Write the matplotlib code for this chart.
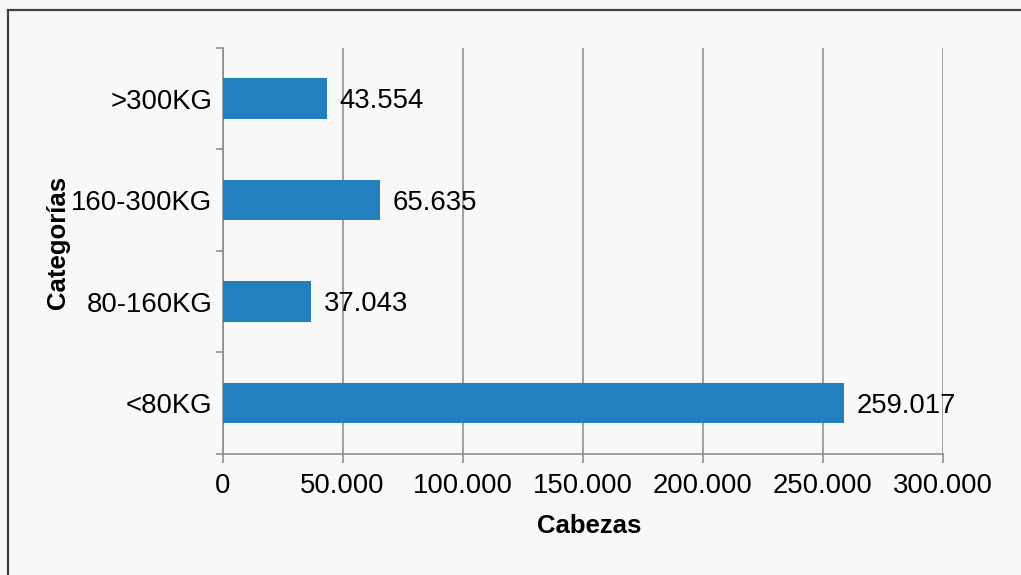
import numpy as np
import matplotlib.pyplot as plt
from matplotlib.patches import Rectangle
from matplotlib.ticker import FuncFormatter

categories = ["<80KG", "80-160KG", "160-300KG", ">300KG"]
cabezas = [259017, 37043, 65635, 43554]
xticks = [0, 50000, 100000, 150000, 200000, 250000, 300000]

plt.rcParams['font.family'] = ['Liberation Sans', 'DejaVu Sans']

W, H = 1021, 575
fig = plt.figure(figsize=(W / 100, H / 100), dpi=100, facecolor='#f8f8f8')

# chart frame (only top/left visible in reference)
fig.patches.append(Rectangle((7.5 / W, -0.1), 1.2, (H - 9.5) / H + 0.1,
                             transform=fig.transFigure, fill=False,
                             edgecolor='#404040', linewidth=1.6))

x0, x1, ytop, ybot = 222.5, 942.7, 48, 453.7
ax = fig.add_axes([x0 / W, (H - ybot) / H, (x1 - x0) / W, (ybot - ytop) / H])
ax.set_facecolor('none')

grid_c = '#888888'
fs = 19.8
ypos = np.arange(len(categories))
ax.barh(ypos, cabezas, height=0.4, color='#2280bf', zorder=3)

for y, v in zip(ypos, cabezas):
    ax.annotate(f"{v:,}".replace(",", "."), (v, y), xytext=(9, -2),
                textcoords='offset points', va='center', ha='left',
                fontsize=fs, color='black', zorder=4)

ax.set_xlim(0, 300000)
ax.set_ylim(-0.5, len(categories) - 0.5)
ax.set_xticks(xticks)
ax.xaxis.set_major_formatter(FuncFormatter(lambda v, p: f"{int(v):,}".replace(",", ".")))
ax.set_yticks(ypos)
ax.set_yticklabels(categories)
ax.set_yticks(np.arange(-0.5, len(categories), 1.0), minor=True)

ax.tick_params(axis='x', length=6.3, width=1.1, color=grid_c, pad=7.5,
               labelsize=fs, direction='out')
ax.tick_params(axis='y', which='major', length=0, pad=7.5, labelsize=fs)
ax.tick_params(axis='y', which='minor', length=5, width=1.1, color=grid_c,
               direction='out')

ax.grid(axis='x', color=grid_c, linewidth=1.1, zorder=0)
for s in ['top', 'right']:
    ax.spines[s].set_visible(False)
for s in ['left', 'bottom']:
    ax.spines[s].set_color(grid_c)
    ax.spines[s].set_linewidth(1.1)

fig.text(589.5 / W, 1 - 526 / H, "Cabezas", ha='center', va='center',
         fontsize=18.5, fontweight='bold')
fig.text(58 / W, 1 - 242 / H, "Categorías", ha='center', va='center',
         rotation=90, fontsize=18.5, fontweight='bold')

fig.savefig("out.png", dpi=100, facecolor=fig.get_facecolor())
